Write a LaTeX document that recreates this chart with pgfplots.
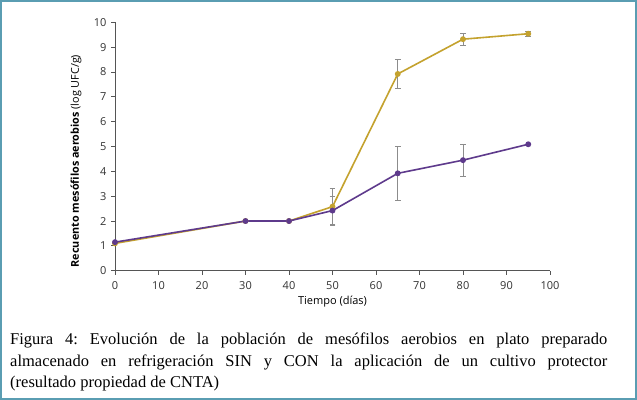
\documentclass[border=0pt]{standalone}
\usepackage{pgfplots}
\pgfplotsset{compat=1.18}
\usepackage{fontspec}
\setmainfont{Liberation Serif}
\newfontfamily\chartfont{Open Sans}

\definecolor{frameblue}{HTML}{5A9DB2}
\definecolor{sinGold}{HTML}{C4A22E}
\definecolor{conPurple}{HTML}{5E3A8C}
\definecolor{errgray}{HTML}{8C8C8C}
\definecolor{axisgray}{HTML}{555555}

% x = tiempo (días), y = log UFC/g, e = desviación
\pgfplotstableread{
x  y     e
0  1.10  0
30 2.00  0
40 2.00  0
50 2.58  0.72
65 7.92  0.57
80 9.32  0.23
95 9.54  0.11
}\sindata
\pgfplotstableread{
x  y     e
0  1.15  0
30 2.00  0
40 2.00  0
50 2.42  0.58
65 3.92  1.08
80 4.45  0.64
95 5.09  0
}\condata
\pgfplotstableread{
x  y     e
50 2.58  0.72
65 7.92  0.57
80 9.32  0.23
95 9.54  0.11
}\sinerr
\pgfplotstableread{
x  y     e
50 2.42  0.58
65 3.92  1.08
80 4.45  0.64
}\conerr

\pgfplotsset{errbars/.style={forget plot, only marks, mark=none,
  error bars/.cd, y dir=both, y explicit,
  error bar style={errgray, line width=0.7bp},
  error mark options={errgray, rotate=90, mark size=2.8bp, line width=0.7bp}}}

\begin{document}
\frenchspacing
\begin{tikzpicture}
% page background and frame
\fill[white] (0,0) rectangle (637bp,-400bp);
\draw[frameblue, line width=2bp] (1bp,-1bp) rectangle (636bp,-399bp);

\begin{axis}[
  at={(115bp,-270.7bp)}, anchor=south west,
  scale only axis, width=435bp, height=248.4bp,
  xmin=0, xmax=100, ymin=0, ymax=10,
  xtick={0,10,...,100}, ytick={0,1,...,10},
  axis lines=left, axis line style={axisgray, line width=0.8bp, -},
  tick style={axisgray, line width=0.8bp},
  tick align=outside, major tick length=4bp,
  tick label style={font=\chartfont\fontsize{11bp}{13bp}\selectfont, text=black!80},
  /pgf/number format/assume math mode=true,
  xticklabel style={yshift=-3bp},
  yticklabel style={xshift=-1bp},
  xlabel={Tiempo (días)},
  xlabel style={font=\chartfont\fontsize{11bp}{13bp}\selectfont, at={(axis description cs:0.5,-0.125)}, anchor=center},
  ylabel={\textbf{Recuento mesófilos aerobios} (log UFC/g)},
  ylabel style={font=\chartfont\fontsize{10.8bp}{13bp}\selectfont, at={(axis description cs:-0.0897,0.4416)}, anchor=center},
  clip=false,
]
% error bars underneath the curves
\addplot[errbars] table[x=x, y=y, y error=e] {\sinerr};
\addplot[errbars] table[x=x, y=y, y error=e] {\conerr};
% SIN cultivo protector
\addplot[sinGold, line width=1.6bp, mark=*, mark size=2.1bp] table[x=x, y=y] {\sindata};
% CON cultivo protector
\addplot[conPurple, line width=1.6bp, mark=*, mark size=2.1bp] table[x=x, y=y] {\condata};
\end{axis}

\node[anchor=north west, inner sep=0pt, text width=597bp, align=justify,
      font=\fontsize{16.5bp}{21.5bp}\selectfont]
  at (10bp,-333bp)
  {Figura 4: Evolución de la población de mesófilos aerobios en plato preparado\linebreak
   almacenado en refrigeración SIN y CON la aplicación de un cultivo protector\linebreak
   (resultado propiedad de CNTA)};
\end{tikzpicture}
\end{document}
